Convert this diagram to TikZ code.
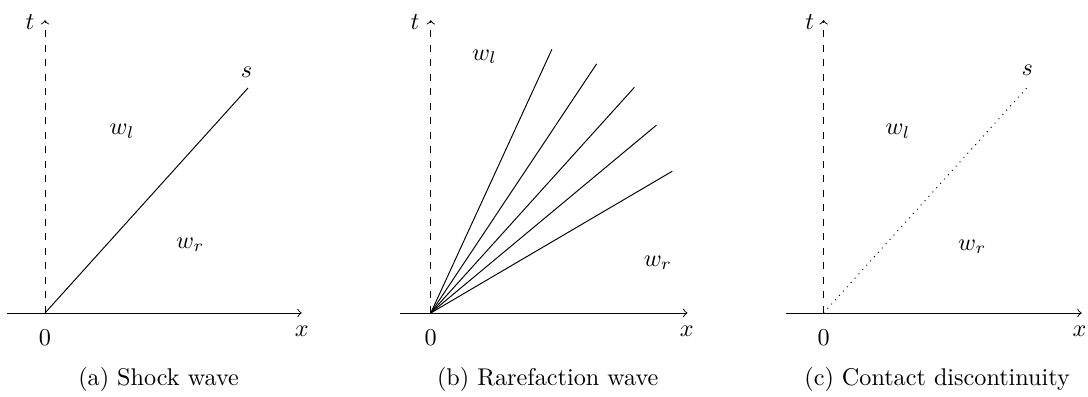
\documentclass[tikz,border=0pt]{standalone}
\begin{document}
\begin{tikzpicture}
    [>=to]
    \useasboundingbox (-0.654,-1.22) rectangle (15.155,4.548);
    %(a) shock wave
    \begin{scope}
    %axes
    \coordinate (oA) at (0,0);
    \coordinate (tA) at (0,4.255);
    \coordinate (xlA) at (-0.55,0);
    \coordinate (xrA) at (3.73,0);
    \draw[dashed,->] (oA)--(tA);
    \draw[->] (xlA)--(xrA);
    \node (labtA) at (-0.22,4.23) {$t$};
    \node (labxA) at (3.73,-0.26) {$x$};
    \node (labzA) at (0,-0.36) {$0$};
    %shock
    \coordinate (sA) at (2.95,3.27);
    \draw (oA)--(sA);
    \node (labsA) at (2.93,3.50) {$s$};
    %states
    \node (wlA) at (1.12,2.64) {$w_l$};
    \node (wrA) at (2.11,0.99) {$w_r$};
    \node (capA) at (1.65,-0.97) {(a) Shock wave};
    \end{scope}
    %(b) rarefaction wave
    \begin{scope}[xshift=5.605cm]
    %axes
    \coordinate (oB) at (0,0);
    \coordinate (tB) at (0,4.255);
    \coordinate (xlB) at (-0.44,0);
    \coordinate (xrB) at (3.73,0);
    \draw[dashed,->] (oB)--(tB);
    \draw[->] (xlB)--(xrB);
    \node (labtB) at (-0.23,4.23) {$t$};
    \node (labxB) at (3.72,-0.26) {$x$};
    \node (labzB) at (0,-0.36) {$0$};
    %fan
    \foreach \i/\fx/\fy in {1/1.76/3.83,2/2.41/3.62,3/2.96/3.28,4/3.28/2.73,5/3.51/2.06}
    {
    \coordinate (fB\i) at (\fx,\fy);
    \draw (oB)--(fB\i);
    }
    %states
    \node (wlB) at (0.78,3.72) {$w_l$};
    \node (wrB) at (3.30,0.73) {$w_r$};
    \node (capB) at (1.70,-0.97) {(b) Rarefaction wave};
    \end{scope}
    %(c) contact discontinuity
    \begin{scope}[xshift=11.313cm]
    %axes
    \coordinate (oC) at (0,0);
    \coordinate (tC) at (0,4.255);
    \coordinate (xlC) at (-0.54,0);
    \coordinate (xrC) at (3.75,0);
    \draw[dashed,->] (oC)--(tC);
    \draw[->] (xlC)--(xrC);
    \node (labtC) at (-0.20,4.23) {$t$};
    \node (labxC) at (3.72,-0.26) {$x$};
    \node (labzC) at (0,-0.36) {$0$};
    %contact
    \coordinate (sC) at (2.96,3.28);
    \draw[dotted] (oC)--(sC);
    \node (labsC) at (2.96,3.53) {$s$};
    %states
    \node (wlC) at (1.08,2.64) {$w_l$};
    \node (wrC) at (2.16,0.96) {$w_r$};
    \node (capC) at (1.65,-0.97) {(c) Contact discontinuity};
    \end{scope}
\end{tikzpicture}
\end{document}
